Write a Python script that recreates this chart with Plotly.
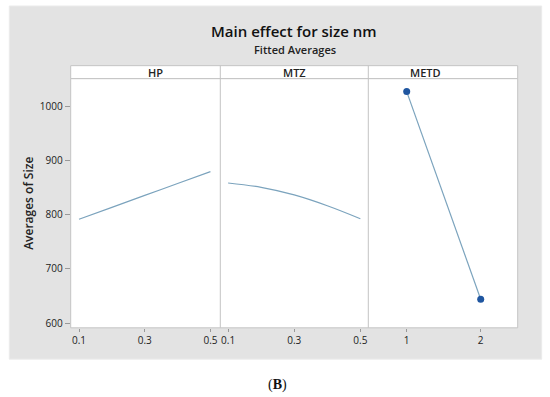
import plotly.graph_objects as go

# ---- data ----
hp_x = [0.1, 0.2, 0.3, 0.4, 0.5]
hp_y = [792, 814, 836, 858, 880]
mtz_x = [0.1, 0.2, 0.3, 0.4, 0.5]
mtz_y = [859, 851, 837, 817, 793]
metd_x = [1, 2]
metd_y = [1028, 644]

panel_names = ["HP", "MTZ", "METD"]
y_ticks = [600, 700, 800, 900, 1000]
hp_ticks = [0.1, 0.3, 0.5]
metd_ticks = [1, 2]

W, H = 550, 397
def px(x): return x / W
def py(y): return 1 - y / H

L, D1, D2, R = 70.7, 220.3, 368.3, 517.7
T, B = 79.0, 329.5
ST = 66.0

line_col = "#7ba3bd"
pt_col = "#1f56a0"
border = "#c4c4c4"
font_fam = "Open Sans, Noto Sans, DejaVu Sans, sans-serif"

fig = go.Figure()
fig.add_trace(go.Scatter(x=hp_x, y=hp_y, mode="lines", line=dict(color=line_col, width=1.2, shape="spline"),
                         xaxis="x", yaxis="y", showlegend=False))
fig.add_trace(go.Scatter(x=mtz_x, y=mtz_y, mode="lines", line=dict(color=line_col, width=1.2, shape="spline"),
                         xaxis="x2", yaxis="y2", showlegend=False))
fig.add_trace(go.Scatter(x=metd_x, y=metd_y, mode="lines+markers", line=dict(color=line_col, width=1.2),
                         marker=dict(color=pt_col, size=7),
                         xaxis="x3", yaxis="y3", showlegend=False))

yr = [591.2, 1052]
tickfont = dict(family=font_fam, size=10, color="#222")
xcommon = dict(ticks="outside", ticklen=3, tickcolor="#999", showgrid=False, zeroline=False,
               showline=False, tickfont=tickfont)

fig.update_layout(
    width=W, height=H, autosize=False,
    margin=dict(l=0, r=0, t=0, b=0),
    paper_bgcolor="white", plot_bgcolor="rgba(0,0,0,0)",
    xaxis=dict(domain=[px(L), px(D1)], range=[0.0747, 0.530], tickvals=hp_ticks,
               ticktext=[str(v) for v in hp_ticks], anchor="y", **xcommon),
    xaxis2=dict(domain=[px(D1), px(D2)], range=[0.0764, 0.524], tickvals=hp_ticks,
                ticktext=[str(v) for v in hp_ticks], anchor="y2", **xcommon),
    xaxis3=dict(domain=[px(D2), px(R)], range=[0.481, 2.5], tickvals=metd_ticks,
                ticktext=[str(v) for v in metd_ticks], anchor="y3", **xcommon),
    yaxis=dict(domain=[py(B), py(T)], range=yr, tickvals=y_ticks, ticks="outside", ticklen=5,
               tickcolor="#999", showgrid=False, zeroline=False, showline=False, tickfont=tickfont,
               title=dict(text="Averages of Size",
                          font=dict(family=font_fam, size=12, color="#222", weight=600),
                          standoff=3),
               anchor="x"),
    yaxis2=dict(domain=[py(B), py(T)], range=yr, visible=False, anchor="x2"),
    yaxis3=dict(domain=[py(B), py(T)], range=yr, visible=False, anchor="x3"),
)

shapes = []
shapes.append(dict(type="rect", xref="paper", yref="paper", x0=px(9.3), x1=px(541.7), y0=py(361), y1=py(6),
                   fillcolor="#e3e3e3", line=dict(color="#ececec", width=1), layer="below"))
shapes.append(dict(type="rect", xref="paper", yref="paper", x0=px(L), x1=px(R), y0=py(B), y1=py(T),
                   fillcolor="white", line=dict(color=border, width=1), layer="below"))
shapes.append(dict(type="rect", xref="paper", yref="paper", x0=px(L), x1=px(R), y0=py(T), y1=py(ST),
                   fillcolor="white", line=dict(color=border, width=1), layer="below"))
for xd in [D1, D2]:
    shapes.append(dict(type="line", xref="paper", yref="paper", x0=px(xd), x1=px(xd), y0=py(B), y1=py(ST),
                       line=dict(color=border, width=1), layer="below"))
fig.update_layout(shapes=shapes)

annotations = [
    dict(text="Main effect for size nm", x=px(294), y=py(31.5), xref="paper", yref="paper",
         showarrow=False, font=dict(family=font_fam, size=15, color="#111", weight=600), yanchor="middle"),
    dict(text="Fitted Averages", x=px(295), y=py(49.5), xref="paper", yref="paper",
         showarrow=False, font=dict(family=font_fam, size=11, color="#222", weight=600), yanchor="middle"),
    dict(text="(<b>B</b>)", x=px(277), y=py(387), xref="paper", yref="paper",
         showarrow=False, font=dict(family="Liberation Serif, DejaVu Serif, serif", size=14, color="#111"),
         yanchor="middle"),
]
for name, (a, b) in zip(panel_names, [(L, D1), (D1, D2), (D2, R)]):
    annotations.append(dict(text=name, x=px((a + b) / 2), y=py((ST + T) / 2 + 0.5),
                            xref="paper", yref="paper", showarrow=False, yanchor="middle",
                            font=dict(family=font_fam, size=11, color="#222", weight=600)))
fig.update_layout(annotations=annotations)

fig.write_html("out.html", config={"displayModeBar": False},
               post_script="document.body.style.margin='0px';document.body.style.overflow='hidden';")
